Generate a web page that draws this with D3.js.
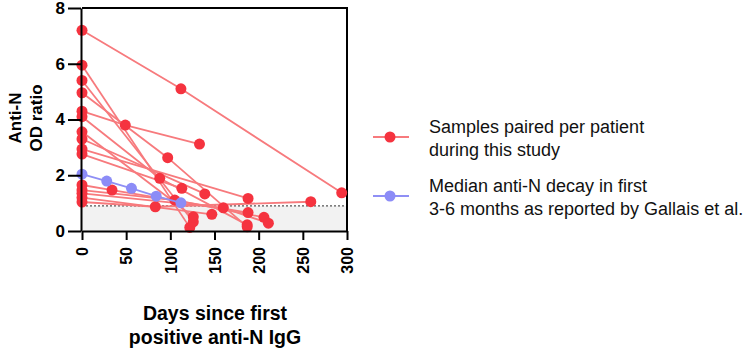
<!DOCTYPE html>
<html>
<head>
<meta charset="utf-8">
<script src="https://cdn.jsdelivr.net/npm/d3@7"></script>
<style>
  body { margin: 0; background: #fff; }
  svg text { font-family: "Liberation Sans", Arial, sans-serif; }
</style>
</head>
<body>
<div id="chart"></div>
<script>
// paired samples per patient: [day, anti-N OD ratio]
const patients = [
  [[0, 7.2], [112, 5.1], [294, 1.37]],
  [[0, 5.95], [122, 0.13]],
  [[0, 5.4], [126, 0.33]],
  [[0, 4.96], [97, 2.63], [187, 0.15]],
  [[0, 4.3], [49, 3.8], [133, 3.12]],
  [[0, 4.1], [88, 1.89], [187, 0.22]],
  [[0, 3.56], [126, 0.51]],
  [[0, 3.3], [139, 1.33]],
  [[0, 2.94], [188, 1.17]],
  [[0, 2.76], [113, 1.53]],
  [[0, 1.65], [34, 1.47], [188, 0.66]],
  [[0, 1.47], [105, 1.11], [206, 0.49]],
  [[0, 1.35], [160, 0.83], [211, 0.28]],
  [[0, 1.2], [147, 0.6]],
  [[0, 1.04], [83, 0.87], [259, 1.05]]
];
// median decay reported by Gallais et al.
const gallaisDays = [0, 28, 56, 84, 112];
const gallaisValues = [2.04, 1.79, 1.53, 1.25, 1.01];
const cutoff = 0.9;
const xTicks = [0, 50, 100, 150, 200, 250, 300];
const yTicks = [0, 2, 4, 6, 8];
const legendLabels = [
  ["Samples paired per patient", "during this study"],
  ["Median anti-N decay in first", "3-6 months as reported by Gallais et al."]
];

(function () {
  const width = 750, height = 348;
  const red = "#f5333f", redLine = "#f77a7d";
  const blue = "#8c8cf7", blueLine = "#8f8ff5";

  const svg = d3.select("#chart").append("svg")
    .attr("width", width).attr("height", height);

  const x = d3.scaleLinear().domain([0, 300]).range([82, 347]);
  const y = d3.scaleLinear().domain([0, 8]).range([231, 8]);

  // shaded area below cutoff
  svg.append("rect")
    .attr("x", x(0)).attr("y", y(cutoff))
    .attr("width", x(300) - x(0)).attr("height", y(0) - y(cutoff))
    .attr("fill", "#f2f2f2");
  svg.append("line")
    .attr("x1", x(0)).attr("x2", x(300))
    .attr("y1", y(cutoff)).attr("y2", y(cutoff))
    .attr("stroke", "#555").attr("stroke-width", 1.2)
    .attr("stroke-dasharray", "2,2");

  // frame top / right
  svg.append("path")
    .attr("d", `M${x(0)},${y(8)}H${x(300)}V${y(0)}`)
    .attr("fill", "none").attr("stroke", "#000").attr("stroke-width", 2);

  const line = d3.line().x(d => x(d[0])).y(d => y(d[1]));

  // patient lines
  svg.append("g").selectAll("path")
    .data(patients).enter().append("path")
    .attr("d", line)
    .attr("fill", "none").attr("stroke", redLine).attr("stroke-width", 1.8);

  svg.append("g").selectAll("circle")
    .data(patients.flat()).enter().append("circle")
    .attr("cx", d => x(d[0])).attr("cy", d => y(d[1]))
    .attr("r", 5.5).attr("fill", red);

  // Gallais median
  const gallais = gallaisDays.map((d, i) => [d, gallaisValues[i]]);
  svg.append("path")
    .datum(gallais)
    .attr("d", line)
    .attr("fill", "none").attr("stroke", blueLine).attr("stroke-width", 1.8);
  svg.append("g").selectAll("circle")
    .data(gallais).enter().append("circle")
    .attr("cx", d => x(d[0])).attr("cy", d => y(d[1]))
    .attr("r", 5.5).attr("fill", blue);

  // axes
  const yAxis = svg.append("g")
    .attr("transform", `translate(${x(0) - 1},0)`)
    .call(d3.axisLeft(y).tickValues(yTicks).tickSize(13).tickPadding(3).tickSizeOuter(0));
  yAxis.selectAll("text")
    .attr("font-size", "17px").attr("font-weight", "bold").attr("fill", "#000");

  const xAxis = svg.append("g")
    .attr("transform", `translate(0,${y(0)})`)
    .call(d3.axisBottom(x).tickValues(xTicks).tickSize(9).tickSizeOuter(0));
  xAxis.selectAll("text")
    .attr("font-size", "16px").attr("font-weight", "bold").attr("fill", "#000")
    .attr("transform", "rotate(-90)")
    .attr("text-anchor", "end")
    .attr("x", -16).attr("y", 0).attr("dy", "0.36em");

  [yAxis, xAxis].forEach(a => {
    a.select(".domain").attr("stroke-width", 2);
    a.selectAll(".tick line").attr("stroke-width", 2);
  });

  // axis titles
  svg.append("text")
    .attr("transform", "translate(26,118) rotate(-90)")
    .attr("text-anchor", "middle")
    .attr("font-size", "17px").attr("font-weight", "bold")
    .selectAll("tspan").data(["Anti-N", "OD ratio"]).enter().append("tspan")
    .attr("x", 0).attr("dy", (d, i) => i === 0 ? "-0.3em" : "1.25em")
    .text(d => d);

  svg.append("text")
    .attr("text-anchor", "middle")
    .attr("font-size", "19.5px").attr("font-weight", "bold")
    .selectAll("tspan").data(["Days since first", "positive anti-N IgG"]).enter().append("tspan")
    .attr("x", 215).attr("y", (d, i) => 320 + i * 24)
    .text(d => d);

  // legend
  const legend = svg.append("g");
  const legendColors = [[red, redLine], [blue, blueLine]];
  const legendY = [137, 196];
  legendLabels.forEach((lines, i) => {
    const cy = legendY[i];
    legend.append("line")
      .attr("x1", 373).attr("x2", 409).attr("y1", cy).attr("y2", cy)
      .attr("stroke", legendColors[i][1]).attr("stroke-width", 1.8);
    legend.append("circle")
      .attr("cx", 390).attr("cy", cy).attr("r", 5.5).attr("fill", legendColors[i][0]);
    legend.append("text")
      .attr("font-size", "18px").attr("fill", "#111")
      .selectAll("tspan").data(lines).enter().append("tspan")
      .attr("x", 429).attr("y", (d, j) => cy - 4 + j * 23)
      .text(d => d);
  });
})();
</script>
</body>
</html>
